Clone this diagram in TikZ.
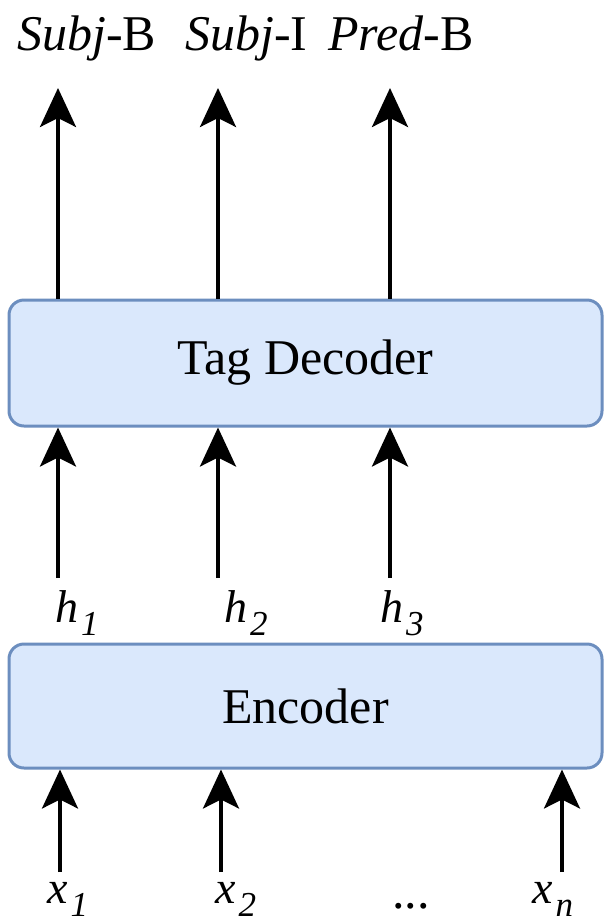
\documentclass[tikz,border=0pt]{standalone}
\usepackage{fontspec}
\setmainfont{Liberation Serif}[ItalicFont={Liberation Serif Italic}]
\usetikzlibrary{arrows.meta}
\definecolor{boxfill}{HTML}{DAE8FC}
\definecolor{boxline}{HTML}{6C8EBF}
\tikzset{
  block/.style={draw=boxline, fill=boxfill, line width=3pt, rounded corners=15pt,
                font=\fontsize{50}{60}\selectfont},
  flow/.style={line width=3.5pt, -{Stealth[length=39pt, width=36pt, inset=9pt]}},
  tag/.style={inner sep=0pt, anchor=base west, font=\fontsize{50}{60}\selectfont},
  var/.style={inner sep=0pt, anchor=base west, font=\fontsize{46}{55}\selectfont},
}
\newcommand{\sbs}[2]{\textit{#1}\kern3pt\raisebox{-13pt}{\fontsize{35}{42}\selectfont\textit{#2}}}
\begin{document}
\begin{tikzpicture}[x=1pt, y=-1pt]
\useasboundingbox (0,0) rectangle (605,922);
% blocks
\node[block, minimum width=593pt, minimum height=126pt] (dec) at (305.5,363) {Tag Decoder};
\node[block, minimum width=593pt, minimum height=124pt] (enc) at (305.5,706) {Encoder};
% output tags
\node[tag] (t1) at (17,50) {\textit{Subj}-B};
\node[tag] (t2) at (185,50) {\textit{Subj}-I};
\node[tag] (t3) at (328,50) {\textit{Pred}-B};
% hidden states
\node[var] (h1) at (55,622) {\sbs{h}{1}};
\node[var] (h2) at (224,622) {\sbs{h}{2}};
\node[var] (h3) at (380,622) {\sbs{h}{3}};
% inputs
\node[var] (x1) at (47,903) {\sbs{x}{1}};
\node[var] (x2) at (215,903) {\sbs{x}{2}};
\node[var, anchor=base, font=\fontsize{50}{60}\selectfont] (xd) at (411,908) {...};
\node[var] (xn) at (532,903) {\sbs{x}{n}};
% arrow anchors
\coordinate (o1) at (58,88);  \coordinate (o2) at (218,88);  \coordinate (o3) at (390,88);
\coordinate (m1) at (58,578); \coordinate (m2) at (218,578); \coordinate (m3) at (390,578);
\coordinate (b1) at (60,872); \coordinate (b2) at (221,872); \coordinate (bn) at (562,872);
% connectors
\foreach \i in {1,2,3} {
  \draw[flow] (dec.north -| o\i) -- (o\i);
  \draw[flow] (m\i) -- (dec.south -| m\i);
}
\foreach \i in {1,2,n} {
  \draw[flow] (b\i) -- (enc.south -| b\i);
}
\end{tikzpicture}
\end{document}
